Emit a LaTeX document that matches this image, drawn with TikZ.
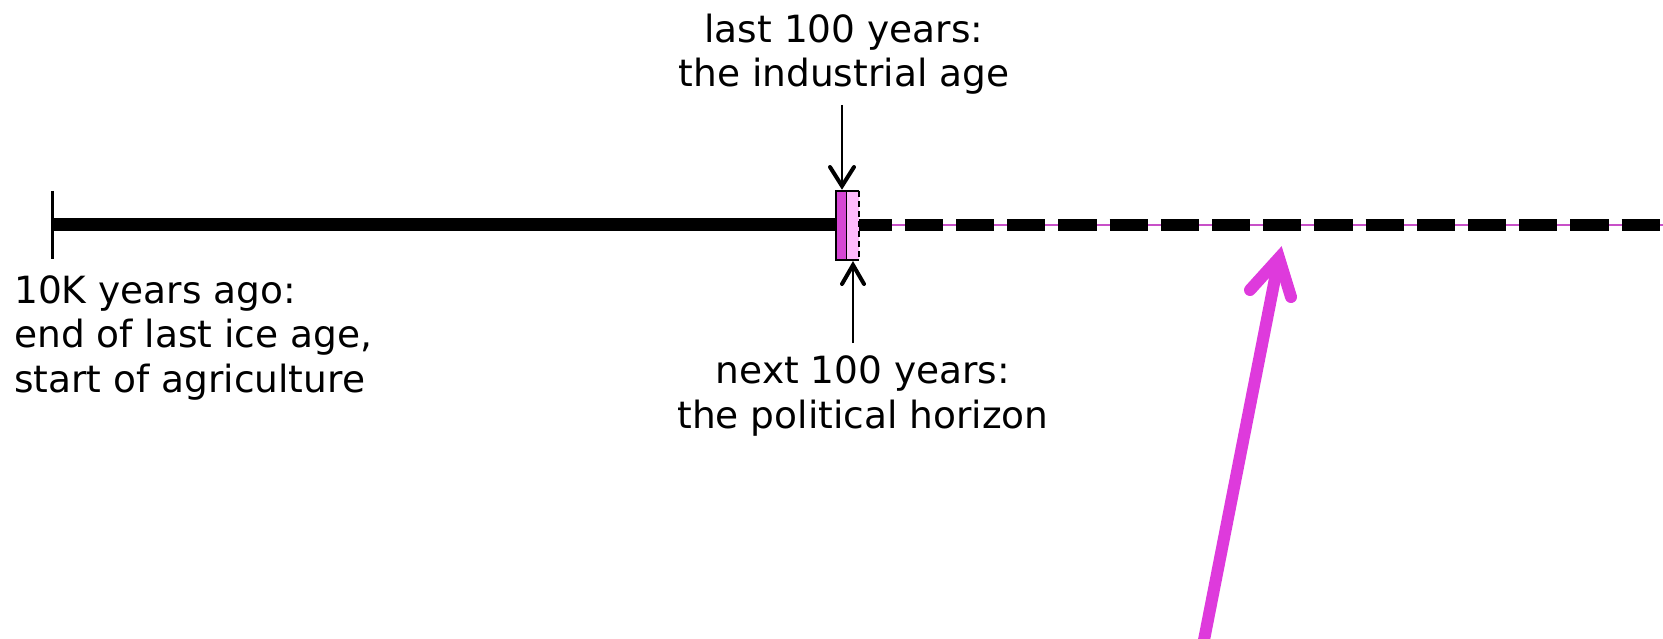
\documentclass[tikz,border=0pt]{standalone}
\usepackage{fontspec}
\setmainfont{DejaVu Sans}
\usetikzlibrary{calc}
\definecolor{arrowmag}{RGB}{222,58,220}
\definecolor{darkmag}{RGB}{214,70,212}
\definecolor{lightpink}{RGB}{255,186,252}
\definecolor{thinmag}{RGB}{200,80,200}
\begin{document}
\begin{tikzpicture}[x=1pt,y=-1pt,
  lbl/.style={inner sep=0pt,font=\fontsize{37.5}{44.5}\selectfont},
  shaft/.style={line width=2pt},
  barb/.style={line width=4pt,line cap=round,line join=miter},
  bigarrow/.style={arrowmag,line width=12pt},
]
\useasboundingbox (0,0) rectangle (1663,639);
% left tick and solid line
\coordinate (tickT) at (52,191);
\coordinate (tickB) at (52,259);
\draw[line width=3pt] (tickT) -- (tickB);
\coordinate (start) at (52,225);
\coordinate (boxL) at (836,225);
\coordinate (boxR) at (859,225);
\coordinate (endR) at (1663,225);
\draw[line width=13pt] (start) -- (boxL);
% future dashed line
\draw[thinmag,line width=1.2pt] (boxR) -- (endR);
\draw[line width=12.5pt,dash pattern=on 38.2pt off 13pt,dash phase=5.4pt] (boxR) -- (endR);
% boxes
\node[draw,line width=2pt,fill=darkmag,minimum width=11pt,minimum height=69pt,inner sep=0pt] (past) at (841.5,225.5) {};
\node[fill=lightpink,minimum width=12pt,minimum height=69pt,inner sep=0pt] (future) at (853,225.5) {};
\draw[line width=2pt] (future.north west) -- (future.north east);
\draw[line width=2pt] (future.south west) -- (future.south east);
\draw[line width=2pt,dash pattern=on 6pt off 4pt] (future.north east) -- (future.south east);
% labels (anchor base = baseline of last line)
\node[lbl,align=center,anchor=base] (ind) at (844,87) {last 100 years:\\the industrial age};
\node[lbl,align=center,anchor=base] (pol) at (863,428) {next 100 years:\\the political horizon};
\node[lbl,align=left,anchor=base west] (ice) at (14,392) {10K years ago:\\end of last ice age,\\start of agriculture};
% top arrow
\coordinate (a1s) at (842,105);
\coordinate (a1t) at (842,186);
\draw[shaft] (a1s) -- (a1t);
\draw[barb] ($(a1t)+(-12,-19)$) -- (a1t) -- ($(a1t)+(12,-19)$);
% bottom arrow
\coordinate (a2s) at (853,343);
\coordinate (a2t) at (853,265);
\draw[shaft] (a2s) -- (a2t);
\draw[barb] ($(a2t)+(-11,19)$) -- (a2t) -- ($(a2t)+(11,19)$);
% magenta arrow
\coordinate (ms) at (1204,640);
\coordinate (mt) at (1279,258);
\draw[bigarrow] (ms) -- (mt);
\draw[bigarrow,line cap=round,line join=miter] (1250,290) -- (mt) -- (1291,297);
\end{tikzpicture}
\end{document}
